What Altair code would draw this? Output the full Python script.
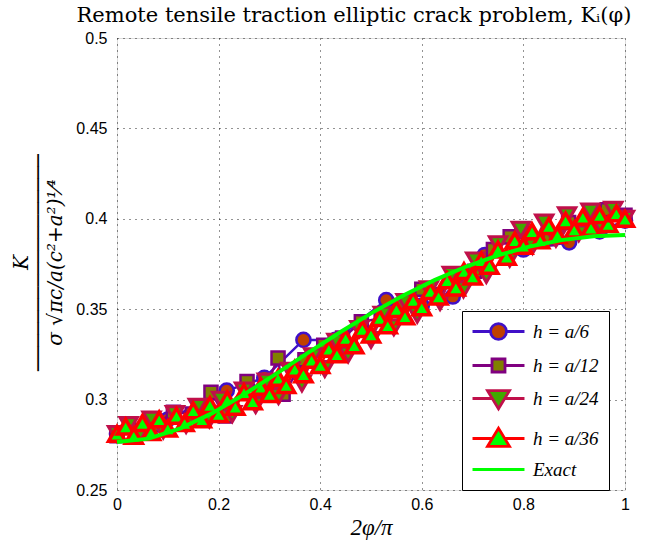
import altair as alt
import pandas as pd

series_names = ["h = a/6", "h = a/12", "h = a/24", "h = a/36", "Exact"]
stroke_colors = ["#4010C8", "#800080", "#C0104A", "#FF0000", "#00FF00"]
fill_colors = ["#C04000", "#808000", "#40A800", "#00FF00", "transparent"]

x_a6 = [0, 0.1, 0.216, 0.29, 0.367, 0.43, 0.53, 0.6, 0.661, 0.724, 0.8, 0.89, 0.95, 1.0]
y_a6 = [0.281, 0.289, 0.305, 0.312, 0.333, 0.333, 0.355, 0.352, 0.357, 0.380, 0.383, 0.387, 0.393, 0.399]

x_a12 = [0, 0.037, 0.074, 0.111, 0.148, 0.185, 0.213, 0.256, 0.29, 0.317, 0.327, 0.37, 0.407, 0.444, 0.481,
         0.52, 0.556, 0.6, 0.63, 0.667, 0.704, 0.741, 0.774, 0.797, 0.852, 0.889, 0.926, 0.965, 1.0]
y_a12 = [0.280, 0.283, 0.286, 0.293, 0.292, 0.304, 0.291, 0.310, 0.305, 0.323, 0.303, 0.322, 0.330, 0.334, 0.343,
         0.345, 0.352, 0.361, 0.358, 0.366, 0.371, 0.383, 0.390, 0.393, 0.389, 0.398, 0.396, 0.405, 0.402]

x_a24 = [0, 0.023, 0.045, 0.068, 0.091, 0.114, 0.136, 0.159, 0.182, 0.205, 0.227, 0.25, 0.273, 0.295, 0.318,
         0.341, 0.364, 0.386, 0.409, 0.432, 0.455, 0.477, 0.5, 0.523, 0.545, 0.568, 0.591, 0.614, 0.636, 0.659,
         0.682, 0.705, 0.727, 0.75, 0.773, 0.795, 0.818, 0.841, 0.864, 0.886, 0.909, 0.932, 0.955, 0.977, 1.0]
y_a24 = [0.281, 0.286, 0.281, 0.289, 0.283, 0.292, 0.286, 0.296, 0.289, 0.300, 0.292, 0.305, 0.297, 0.310, 0.302,
         0.316, 0.309, 0.324, 0.317, 0.332, 0.325, 0.339, 0.333, 0.347, 0.340, 0.354, 0.347, 0.361, 0.354, 0.369,
         0.361, 0.377, 0.369, 0.386, 0.378, 0.394, 0.385, 0.398, 0.389, 0.402, 0.392, 0.404, 0.395, 0.405, 0.400]

x_a36 = [0, 0.017, 0.033, 0.05, 0.067, 0.083, 0.1, 0.117, 0.133, 0.15, 0.167, 0.183, 0.2, 0.217, 0.233, 0.25,
         0.267, 0.283, 0.3, 0.317, 0.333, 0.35, 0.367, 0.383, 0.4, 0.417, 0.433, 0.45, 0.467, 0.483, 0.5, 0.517,
         0.533, 0.55, 0.567, 0.583, 0.6, 0.617, 0.633, 0.65, 0.667, 0.683, 0.7, 0.717, 0.733, 0.75, 0.767, 0.783,
         0.8, 0.817, 0.833, 0.85, 0.867, 0.883, 0.9, 0.917, 0.933, 0.95, 0.967, 0.983, 1.0]
y_a36 = [0.281, 0.285, 0.280, 0.287, 0.282, 0.289, 0.284, 0.291, 0.287, 0.294,
         0.289, 0.297, 0.292, 0.300, 0.296, 0.304, 0.299, 0.307, 0.303, 0.312,
         0.308, 0.317, 0.314, 0.322, 0.319, 0.328, 0.325, 0.334, 0.330, 0.339,
         0.336, 0.345, 0.341, 0.350, 0.346, 0.355, 0.351, 0.360, 0.357, 0.366,
         0.362, 0.371, 0.368, 0.377, 0.374, 0.383, 0.379, 0.388, 0.385, 0.393,
         0.388, 0.396, 0.391, 0.399, 0.394, 0.401, 0.395, 0.402, 0.397, 0.403,
         0.400]

x_exact = [0, 0.0625, 0.125, 0.1875, 0.25, 0.3125, 0.375, 0.4375, 0.5, 0.5625, 0.625, 0.6875, 0.75, 0.8125,
           0.875, 0.9375, 1.0]
y_exact = [0.2765, 0.2784, 0.2841, 0.2925, 0.3028, 0.3141, 0.3257, 0.3370, 0.3477, 0.3574, 0.3661, 0.3736,
           0.3798, 0.3847, 0.3882, 0.3903, 0.3910]

legend_paths = [
    "M-3,0H-0.92M0.92,0H3M-0.92,0A0.92,0.92 0 1,0 0.92,0A0.92,0.92 0 1,0 -0.92,0Z",
    "M-3,0H-0.75M0.75,0H3M-0.75,-0.75H0.75V0.75H-0.75Z",
    "M-3,0H-0.72M0.72,0H3M-1.27,-0.9H1.27L0,1.18Z",
    "M-3,0H-0.72M0.72,0H3M0,-1.18L1.27,0.9H-1.27Z",
    "M-3,0H3",
]

point_shapes = ["circle", "square", "triangle-down", "triangle-up"]
point_sizes = [200, 170, 290, 290]
point_strokes = [2.5, 2.5, 3.2, 3.5]


def frame(xs, ys, name):
    return pd.DataFrame({"x": xs, "y": ys, "series": name})


xscale = alt.Scale(domain=[0, 1], nice=False, zero=False)
yscale = alt.Scale(domain=[0.25, 0.5], nice=False, zero=False)

x_axis = alt.Axis(
    values=[0, 0.2, 0.4, 0.6, 0.8, 1], format=".2~f", labelFlush=False, labelOverlap=False,
    ticks=False, domain=False, grid=True, gridDash=[1, 5], gridColor="black", gridOpacity=0.85,
    labelFont="Liberation Sans", labelFontSize=16, labelColor="black", labelPadding=6,
    title="2φ/π", titleFont="Liberation Serif", titleFontStyle="italic", titleFontSize=23,
    titleFontWeight="normal", titleColor="black", titlePadding=4,
)
y_axis = alt.Axis(
    values=[0.25, 0.3, 0.35, 0.4, 0.45, 0.5], format=".2~f", labelFlush=False, labelOverlap=False,
    ticks=False, domain=False, grid=True, gridDash=[1, 5], gridColor="black", gridOpacity=0.85,
    labelFont="Liberation Sans", labelFontSize=16, labelColor="black", labelPadding=10,
    title=["K", "──────────────────", "σ √πc/a(c²+a²)¹⁄⁴"],
    titleFont="DejaVu Serif", titleFontStyle="italic", titleFontSize=20, titleFontWeight="normal",
    titleColor="black", titleAlign="center", titleBaseline="top", titleAngle=270,
    titleX=-106, titleY=224, titleLineHeight=17,
)

X = alt.X("x:Q", scale=xscale, axis=x_axis)
Y = alt.Y("y:Q", scale=yscale, axis=y_axis)

series_data = [(x_a6, y_a6), (x_a12, y_a12), (x_a24, y_a24), (x_a36, y_a36)]
layers = []
for i, (xs, ys) in enumerate(series_data):
    df = frame(xs, ys, series_names[i])
    base = alt.Chart(df)
    layers.append(base.mark_line(color=stroke_colors[i], strokeWidth=2.5).encode(X, Y))
    layers.append(
        base.mark_point(
            shape=point_shapes[i], size=point_sizes[i], filled=True, fill=fill_colors[i],
            stroke=stroke_colors[i], strokeWidth=point_strokes[i], opacity=1,
        ).encode(X, Y)
    )

layers.append(
    alt.Chart(frame(x_exact, y_exact, "Exact")).mark_line(color=stroke_colors[4], strokeWidth=4).encode(X, Y)
)

legend = alt.Legend(
    title=None, orient="none", legendX=345, legendY=273, symbolSize=300, symbolStrokeWidth=2.8,
    labelFont="Liberation Serif", labelFontStyle="italic", labelFontSize=19, labelColor="black",
    strokeColor="black", fillColor="white", padding=10, rowPadding=7, labelOffset=24,
    symbolOffset=16, cornerRadius=0,
)
legend_df = pd.DataFrame({"series": series_names, "x": [0, 0, 0, 0, 0], "y": [0, 0, 0, 0, 0]})
layers.append(
    alt.Chart(legend_df).transform_filter("datum.x > 5").mark_point(size=300, strokeWidth=2.8, opacity=1).encode(
        shape=alt.Shape("series:N", scale=alt.Scale(domain=series_names, range=legend_paths), legend=legend),
        stroke=alt.Stroke("series:N", scale=alt.Scale(domain=series_names, range=stroke_colors), legend=legend),
        fill=alt.Fill("series:N", scale=alt.Scale(domain=series_names, range=fill_colors), legend=legend),
    )
)

chart = alt.layer(*layers).properties(
    width=508, height=452,
    title=alt.TitleParams(
        text="Remote tensile traction elliptic crack problem, Kᵢ(φ)", font="DejaVu Serif",
        fontSize=21, fontWeight="normal", color="black", anchor="middle", dx=-17, offset=4,
    ),
    autosize=alt.AutoSizeParams(type="none"),
    padding={"left": 117, "top": 38, "right": 28, "bottom": 56},
).configure_view(stroke="black", strokeWidth=1).configure(background="white")

chart.save("out.html", embed_options={"renderer": "svg", "actions": False})
